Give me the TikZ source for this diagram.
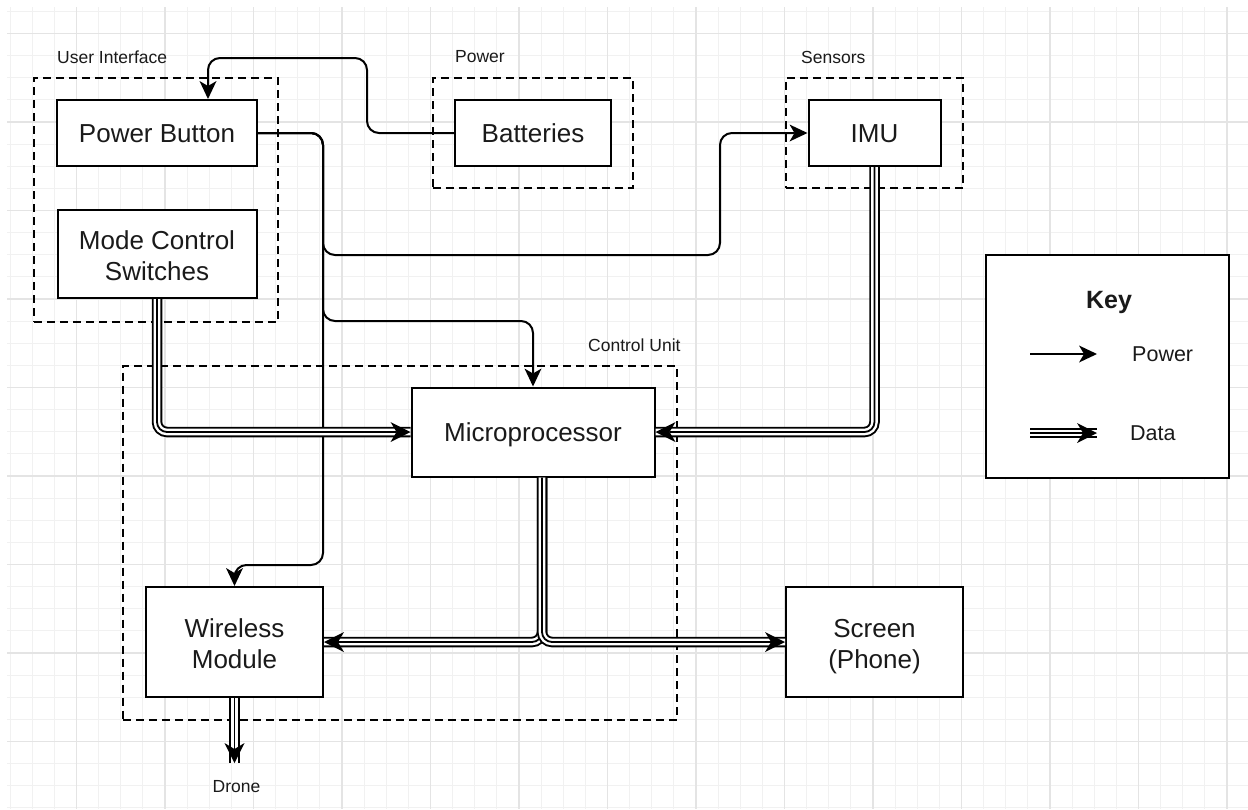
\documentclass[tikz,border=0pt]{standalone}
\usepackage{fontspec}
\setmainfont{Liberation Sans}
\usetikzlibrary{arrows.meta}
\definecolor{gmincol}{HTML}{F1F1F1}
\definecolor{gmajcol}{HTML}{E4E4E4}
\definecolor{txtcol}{HTML}{1A1A1A}
\newcommand{\twoline}[2]{\raisebox{-5pt}[\height][\depth]{\begin{tabular}{@{}c@{}}#1\\#2\end{tabular}}}
\begin{document}
\begin{tikzpicture}[x=1pt,y=-1pt,
  gmin/.style={draw=gmincol, line width=1pt},
  gmaj/.style={draw=gmajcol, line width=1.1pt},
  box/.style={draw, line width=2pt, fill=white, rectangle, inner sep=0pt, align=center,
    text=txtcol, font=\fontsize{26}{31}\selectfont},
  oneline/.style={text height=19pt, text depth=0pt},
  grp/.style={draw, line width=2pt, rectangle, inner sep=0pt, dash pattern=on 8pt off 5pt},
  glabel/.style={anchor=west, inner sep=0pt, text=txtcol, font=\fontsize{17.5}{20}\selectfont},
  klabel/.style={anchor=west, inner sep=0pt, text=txtcol, font=\fontsize{21.5}{25}\selectfont},
  pwtip/.tip={Stealth[length=18pt,width=17pt,inset=5pt,line width=0pt]},
  dtip/.tip={Stealth[length=20pt,width=20pt,inset=6pt,line width=0pt]},
  pw/.style={line width=2pt, rounded corners=12pt, -pwtip},
  data/.style={line width=1.8pt, rounded corners=10pt,
    preaction={draw, arrows=-, line width=10.5pt},
    preaction={draw, arrows=-, white, line width=6.6pt},
    -dtip}
]
\useasboundingbox (0,0) rectangle (1248,809);
\fill[white] (0,0) rectangle (1248,809);
% grid
\foreach \i in {0,...,55} \draw[gmin] ({10.125+22.125*\i},7) -- ({10.125+22.125*\i},809);
\foreach \i in {0,...,36} \draw[gmin] (7,{11.4+22.125*\i}) -- (1248,{11.4+22.125*\i});
\foreach \i in {0,...,13} \draw[gmaj] ({76.5+88.5*\i},7) -- ({76.5+88.5*\i},809);
\foreach \i in {0,...,8} \draw[gmaj] (7,{33.5+88.5*\i}) -- (1248,{33.5+88.5*\i});

% groups
\node[grp, minimum width=244pt, minimum height=244pt] (ui) at (156,200) {};
\node[grp, minimum width=200pt, minimum height=110pt] (pg) at (532.5,133) {};
\node[grp, minimum width=177pt, minimum height=110pt] (sg) at (874.5,133) {};
\node[grp, minimum width=554pt, minimum height=354pt] (cu) at (400,542.5) {};

\node[glabel] (uil) at (57,57) {User Interface};
\node[glabel] (pgl) at (455,57) {Power};
\node[glabel] (sgl) at (801,57) {Sensors};
\node[glabel] (cul) at (588,345) {Control Unit};

% boxes
\node[box, oneline, minimum width=200pt, minimum height=66pt] (pb) at (157,133) {Power Button};
\node[box, minimum width=199pt, minimum height=88pt] (mcs) at (157,254) {\twoline{Mode Control}{Switches}};
\node[box, oneline, minimum width=156pt, minimum height=66pt] (bat) at (533,133) {Batteries};
\node[box, oneline, minimum width=132pt, minimum height=66pt] (imu) at (874.5,133) {IMU};
\node[box, oneline, minimum width=243pt, minimum height=89pt] (mp) at (533,432) {Microprocessor};
\node[box, minimum width=177pt, minimum height=110pt] (wm) at (234.5,642) {\twoline{Wireless}{Module}};
\node[box, minimum width=177pt, minimum height=110pt] (scr) at (874.5,642) {\twoline{Screen}{(Phone)}};

% drone end
\coordinate (drn) at (234.5,763);
\node[glabel, anchor=center] (drl) at (236.5,787) {Drone};

% power connectors
\coordinate (c1) at (367,58);
\draw[pw] (bat.west) -| (c1) -| ([xshift=51pt]pb.north);
\draw[pw] (pb.east) -| (323,255) -| (720,133) -- (imu.west);
\draw[pw] (pb.east) -| (323,321) -| (mp.north);
\draw[pw] (pb.east) -| (323,565) -| (wm.north);

% data connectors
\draw[data] (mcs.south) |- (mp.west);
\draw[data] (imu.south) |- (mp.east);
\draw[data] ([xshift=9pt]mp.south) |- (wm.east);
\draw[data] ([xshift=9pt]mp.south) |- (scr.west);
\draw[data] (wm.south) -- (drn);

% key
\node[box, minimum width=243pt, minimum height=223pt] (key) at (1107.5,366.5) {};
\node[inner sep=0pt, text=txtcol, font=\bfseries\fontsize{25}{30}\selectfont] (keyt) at (1109,302) {Key};
\coordinate (kp1) at (1030,354);
\coordinate (kp2) at (1097,354);
\coordinate (kd1) at (1030,433);
\coordinate (kd2) at (1097,433);
\draw[pw] (kp1) -- (kp2);
\draw[data] (kd1) -- (kd2);
\node[klabel] (kpl) at (1132,354) {Power};
\node[klabel] (kdl) at (1130,433) {Data};
\end{tikzpicture}
\end{document}
